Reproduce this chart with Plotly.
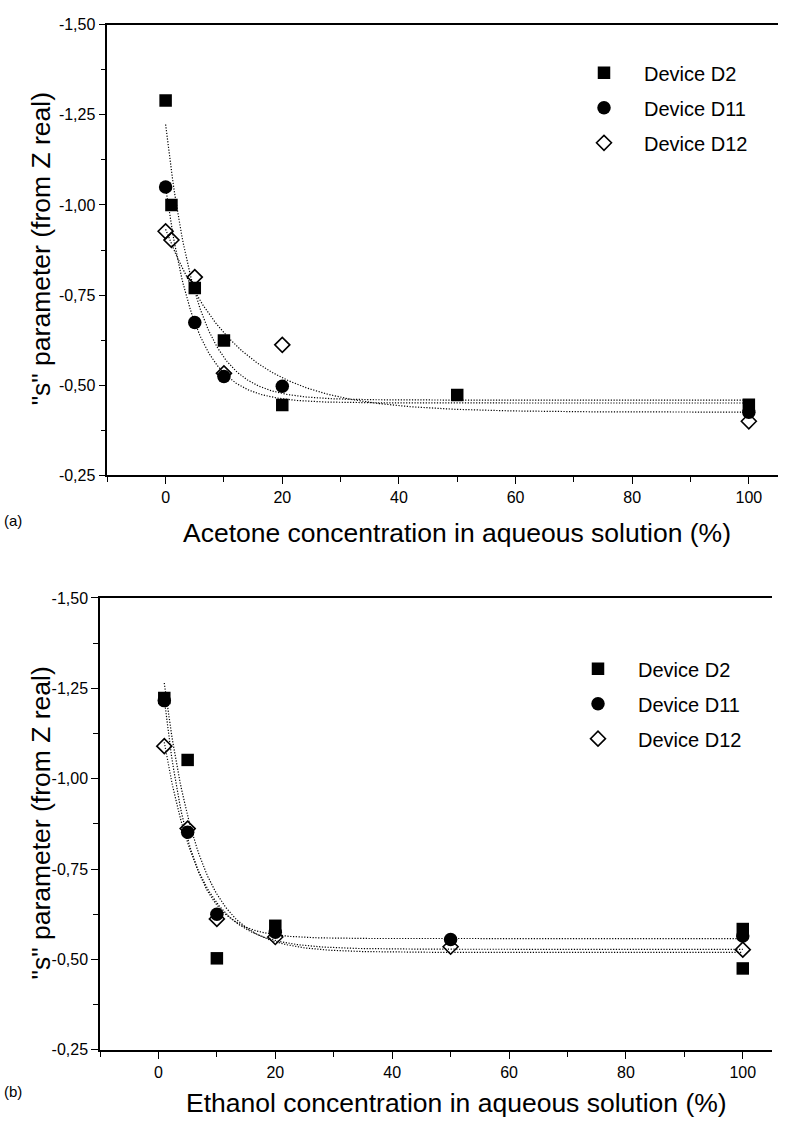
import numpy as np
import plotly.graph_objects as go

# ---------------- data ----------------
# (a) acetone
ace_x_D2 = [0, 1, 5, 10, 20, 50, 100]
ace_y_D2 = [-1.29, -1.00, -0.77, -0.624, -0.445, -0.473, -0.446]
ace_x_D11 = [0, 5, 10, 20, 100]
ace_y_D11 = [-1.05, -0.674, -0.524, -0.497, -0.425]
ace_x_D12 = [0, 1, 5, 10, 20, 100]
ace_y_D12 = [-0.927, -0.903, -0.80, -0.533, -0.612, -0.40]

# (b) ethanol
eth_x_D2 = [1, 5, 10, 20, 100, 100]
eth_y_D2 = [-1.223, -1.052, -0.503, -0.593, -0.584, -0.475]
eth_x_D11 = [1, 5, 10, 20, 50, 100]
eth_y_D11 = [-1.216, -0.852, -0.625, -0.575, -0.555, -0.565]
eth_x_D12 = [1, 5, 10, 20, 50, 100]
eth_y_D12 = [-1.09, -0.862, -0.612, -0.562, -0.535, -0.527]

series_names = ["Device D2", "Device D11", "Device D12"]
y_tickvals = [-1.50, -1.25, -1.00, -0.75, -0.50, -0.25]
y_ticktext = ["-1,50", "-1,25", "-1,00", "-0,75", "-0,50", "-0,25"]
x_tickvals = [0, 20, 40, 60, 80, 100]
x_ticktext = ["0", "20", "40", "60", "80", "100"]

FONT = "Liberation Sans, Arial, Helvetica, sans-serif"
W, H = 795, 1128


def exp_decay_fit(x, y):
    """Least-squares fit of y = y0 + A*exp(-x/t) (first-order exponential decay)."""
    x = np.asarray(x, float)
    y = np.asarray(y, float)
    best = None
    for t in np.linspace(0.3, 80, 4000):
        M = np.column_stack([np.ones_like(x), np.exp(-x / t)])
        coef, *_ = np.linalg.lstsq(M, y, rcond=None)
        sse = float(((M @ coef - y) ** 2).sum())
        if best is None or sse < best[0]:
            best = (sse, coef[0], coef[1], t)
    return best[1], best[2], best[3]


marker_styles = [
    dict(symbol="square", size=12.5, color="black", line=dict(width=0)),
    dict(symbol="circle", size=13.5, color="black", line=dict(width=0)),
    dict(symbol="diamond-open", size=11.5, color="black", line=dict(width=1.6, color="black")),
]

fig = go.Figure()

panels = [
    ("x", "y", "legend", [(ace_x_D2, ace_y_D2), (ace_x_D11, ace_y_D11), (ace_x_D12, ace_y_D12)], "a"),
    ("x2", "y2", "legend2", [(eth_x_D2, eth_y_D2), (eth_x_D11, eth_y_D11), (eth_x_D12, eth_y_D12)], "b"),
]

for xa, ya, leg, sets, tag in panels:
    # fitted exponential-decay curves
    for (xs, ys) in sets:
        y0, A, t = exp_decay_fit(xs, ys)
        xf = np.linspace(min(xs), max(xs), 400)
        yf = y0 + A * np.exp(-xf / t)
        fig.add_trace(go.Scatter(x=xf, y=yf, mode="lines", xaxis=xa, yaxis=ya,
                                 line=dict(color="black", width=1.2, dash="1.2px,1.6px"),
                                 showlegend=False, hoverinfo="skip"))
    # data points
    for i, (xs, ys) in enumerate(sets):
        fig.add_trace(go.Scatter(x=xs, y=ys, mode="markers", xaxis=xa, yaxis=ya,
                                 marker=marker_styles[i], name=series_names[i],
                                 legend=leg, legendgroup=f"{tag}{i}", showlegend=True))

axis_common = dict(showline=True, linecolor="black", linewidth=1.5, ticks="outside",
                   tickcolor="black", tickwidth=1.3, ticklen=7, showgrid=False, zeroline=False,
                   tickfont=dict(family=FONT, size=16, color="black"))
minor_x = dict(dtick=10, tick0=0, ticks="outside", ticklen=5, tickwidth=1.2, tickcolor="black")
minor_y = dict(dtick=0.125, tick0=-1.5, ticks="outside", ticklen=5, tickwidth=1.2, tickcolor="black")

xdom_a = [107.3 / W, 778 / W]
ydom_a = [1 - 474.5 / H, 1 - 17 / H]
xdom_b = [100 / W, 772 / W]
ydom_b = [1 - 1057.7 / H, 1 - 599 / H]

legend_common = dict(xanchor="left", yanchor="top", bgcolor="rgba(0,0,0,0)",
                     font=dict(family=FONT, size=20, color="black"), tracegroupgap=6,
                     itemwidth=70, traceorder="grouped")

fig.update_layout(
    width=W, height=H, margin=dict(l=0, r=0, t=0, b=0),
    paper_bgcolor="white", plot_bgcolor="white",
    font=dict(family=FONT, color="black"),
    xaxis=dict(domain=xdom_a, range=[-10, 105], anchor="y", tickvals=x_tickvals, ticktext=x_ticktext,
               minor=minor_x, mirror=True, **axis_common),
    yaxis=dict(domain=ydom_a, range=[-0.25, -1.5], anchor="x", tickvals=y_tickvals, ticktext=y_ticktext,
               minor=minor_y, **axis_common),
    xaxis2=dict(domain=xdom_b, range=[-10, 105], anchor="y2", tickvals=x_tickvals, ticktext=x_ticktext,
                minor=minor_x, mirror=True, **axis_common),
    yaxis2=dict(domain=ydom_b, range=[-0.25, -1.5], anchor="x2", tickvals=y_tickvals, ticktext=y_ticktext,
                minor=minor_y, **axis_common),
    legend=dict(x=564 / W, y=1 - 46 / H, **legend_common),
    legend2=dict(x=558 / W, y=1 - 651 / H, **legend_common),
)

ann = [
    dict(text='"s" parameter (from Z real)', x=41 / W, y=1 - 245 / H, textangle=-90),
    dict(text='"s" parameter (from Z real)', x=41 / W, y=1 - 828 / H, textangle=-90),
    dict(text="Acetone concentration in aqueous solution (%)", x=457 / W, y=1 - 533 / H),
    dict(text="Ethanol concentration in aqueous solution (%)", x=456 / W, y=1 - 1112 / H),
]
for a in ann:
    fig.add_annotation(xref="paper", yref="paper", xanchor="center", yanchor="middle", showarrow=False,
                       font=dict(family=FONT, size=26.5, color="black"), **a)
fig.add_annotation(text="(a)", xref="paper", yref="paper", x=2 / W, y=1 - 520 / H, xanchor="left",
                   yanchor="middle", showarrow=False, font=dict(family=FONT, size=15, color="black"))
fig.add_annotation(text="(b)", xref="paper", yref="paper", x=2 / W, y=1 - 1100 / H, xanchor="left",
                   yanchor="middle", showarrow=False, font=dict(family=FONT, size=15, color="black"))

fig.write_html("out.html", config={"displayModeBar": False},
               post_script="document.body.style.margin='0';document.body.style.overflow='hidden';")
